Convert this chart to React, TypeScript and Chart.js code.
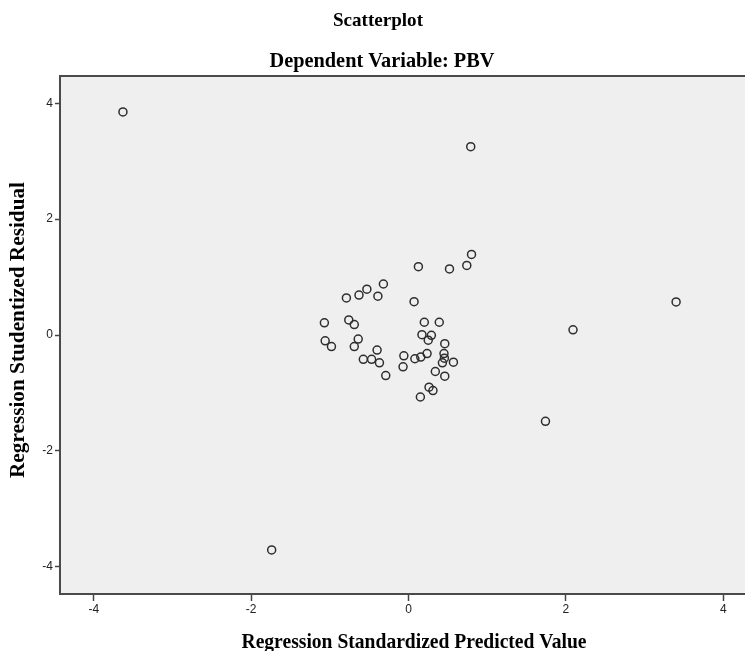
import React, { useEffect, useRef } from "react";
import { Chart, registerables } from "chart.js";

Chart.register(...registerables);

const chartTitle = "Scatterplot";
const chartSubtitle = "Dependent Variable: PBV";
const xAxisTitle = "Regression Standardized Predicted Value";
const yAxisTitle = "Regression Studentized Residual";

const predictedValues: number[] = [
  -3.63, 0.79, 0.8, 0.74, 0.52, 0.125, 0.07, 3.4, 2.09, 1.74, -1.74,
  -0.32, -0.53, -0.63, -0.79, -0.39, -1.07, -0.76, -0.69, 0.2, 0.39,
  -1.06, -0.98, -0.64, -0.69, 0.17, 0.29, 0.25, 0.46, -0.4, -0.575,
  -0.47, -0.37, -0.06, -0.07, 0.08, 0.155, 0.235, 0.45, 0.455, 0.43,
  0.57, 0.34, 0.46, -0.29, 0.26, 0.31, 0.15,
];

const studentizedResiduals: number[] = [
  3.85, 3.25, 1.39, 1.2, 1.14, 1.18, 0.575, 0.57, 0.09, -1.49, -3.71,
  0.88, 0.79, 0.69, 0.64, 0.67, 0.21, 0.26, 0.18, 0.22, 0.22,
  -0.1, -0.2, -0.07, -0.2, 0.005, -0.005, -0.09, -0.15, -0.26, -0.42,
  -0.42, -0.48, -0.36, -0.55, -0.41, -0.38, -0.32, -0.32, -0.4, -0.48,
  -0.47, -0.63, -0.71, -0.7, -0.9, -0.96, -1.07,
];

const tickValues: number[] = [-4, -2, 0, 2, 4];

const CANVAS_W = 765;
const CANVAS_H = 651;

function drawFittedText(
  ctx: CanvasRenderingContext2D,
  text: string,
  cx: number,
  baseline: number,
  size: number,
  targetWidth: number,
  rotate = false
) {
  ctx.save();
  ctx.font = `bold ${size}px "Liberation Serif", "Times New Roman", serif`;
  ctx.fillStyle = "#000";
  ctx.textAlign = "center";
  ctx.textBaseline = "alphabetic";
  const w = ctx.measureText(text).width;
  const sx = targetWidth / w;
  ctx.translate(cx, baseline);
  if (rotate) ctx.rotate(-Math.PI / 2);
  ctx.scale(sx, 1);
  ctx.fillText(text, 0, 0);
  ctx.restore();
}

const frameAndTextPlugin = {
  id: "frameAndText",
  beforeDraw(chart: any) {
    const { ctx, chartArea } = chart;
    ctx.save();
    ctx.fillStyle = "#ffffff";
    ctx.fillRect(0, 0, chart.width, chart.height);
    ctx.fillStyle = "#efefef";
    ctx.fillRect(
      chartArea.left,
      chartArea.top,
      chartArea.right - chartArea.left,
      chartArea.bottom - chartArea.top
    );
    ctx.restore();
  },
  afterDraw(chart: any) {
    const { ctx, chartArea } = chart;
    ctx.save();
    ctx.strokeStyle = "#4a4a4a";
    ctx.lineWidth = 2;
    ctx.beginPath();
    ctx.moveTo(chartArea.left - 1, chartArea.top);
    ctx.lineTo(chartArea.right, chartArea.top);
    ctx.stroke();
    ctx.restore();

    drawFittedText(ctx, chartTitle, 378, 26, 19, 90);
    drawFittedText(ctx, chartSubtitle, 382, 67, 21, 225);
    drawFittedText(ctx, xAxisTitle, 414, 648, 21, 345);
    drawFittedText(ctx, yAxisTitle, 24, 330, 21, 296, true);
  },
};

export default function App() {
  const canvasRef = useRef<HTMLCanvasElement | null>(null);

  useEffect(() => {
    const canvas = canvasRef.current;
    if (!canvas) return;
    const points = predictedValues.map((x, i) => ({ x, y: studentizedResiduals[i] }));
    const tickFont = { family: '"Liberation Sans", Arial, sans-serif', size: 12 };
    const chart = new Chart(canvas, {
      type: "scatter",
      data: {
        datasets: [
          {
            data: points,
            pointRadius: 4,
            pointHoverRadius: 4,
            pointBorderWidth: 1.5,
            pointBorderColor: "#2e2e2e",
            pointBackgroundColor: "rgba(0,0,0,0)",
          },
        ],
      },
      options: {
        animation: false,
        responsive: false,
        maintainAspectRatio: false,
        layout: { padding: { top: 76, left: 0, right: 0, bottom: 0 } },
        plugins: {
          legend: { display: false },
          tooltip: { enabled: false },
          title: { display: false },
        },
        scales: {
          x: {
            type: "linear",
            min: -4.43,
            max: 4.46,
            afterFit: (s: any) => {
              s.height = 57;
            },
            afterBuildTicks: (s: any) => {
              s.ticks = tickValues.map((v) => ({ value: v }));
            },
            ticks: {
              stepSize: 2,
              includeBounds: false,
              color: "#222",
              font: tickFont,
              padding: 1,
              maxRotation: 0,
            },
            grid: {
              drawOnChartArea: false,
              drawTicks: true,
              tickLength: 7,
              tickColor: "#444",
              tickWidth: 1.5,
            },
            border: { display: true, color: "#4a4a4a", width: 2 },
          },
          y: {
            type: "linear",
            min: -4.47,
            max: 4.47,
            afterFit: (s: any) => {
              s.width = 60;
            },
            afterBuildTicks: (s: any) => {
              s.ticks = tickValues.map((v) => ({ value: v }));
            },
            ticks: {
              stepSize: 2,
              includeBounds: false,
              color: "#222",
              font: tickFont,
              padding: 2,
            },
            grid: {
              drawOnChartArea: false,
              drawTicks: true,
              tickLength: 5,
              tickColor: "#444",
              tickWidth: 1.5,
            },
            border: { display: true, color: "#4a4a4a", width: 2 },
          },
        },
      },
      plugins: [frameAndTextPlugin],
    } as any);
    return () => chart.destroy();
  }, []);

  return (
    <div
      style={{
        position: "absolute",
        left: 0,
        top: 0,
        width: 745,
        height: 651,
        overflow: "hidden",
        background: "#fff",
      }}
    >
      <canvas
        ref={canvasRef}
        width={CANVAS_W}
        height={CANVAS_H}
        style={{ display: "block", width: CANVAS_W, height: CANVAS_H }}
      />
    </div>
  );
}
